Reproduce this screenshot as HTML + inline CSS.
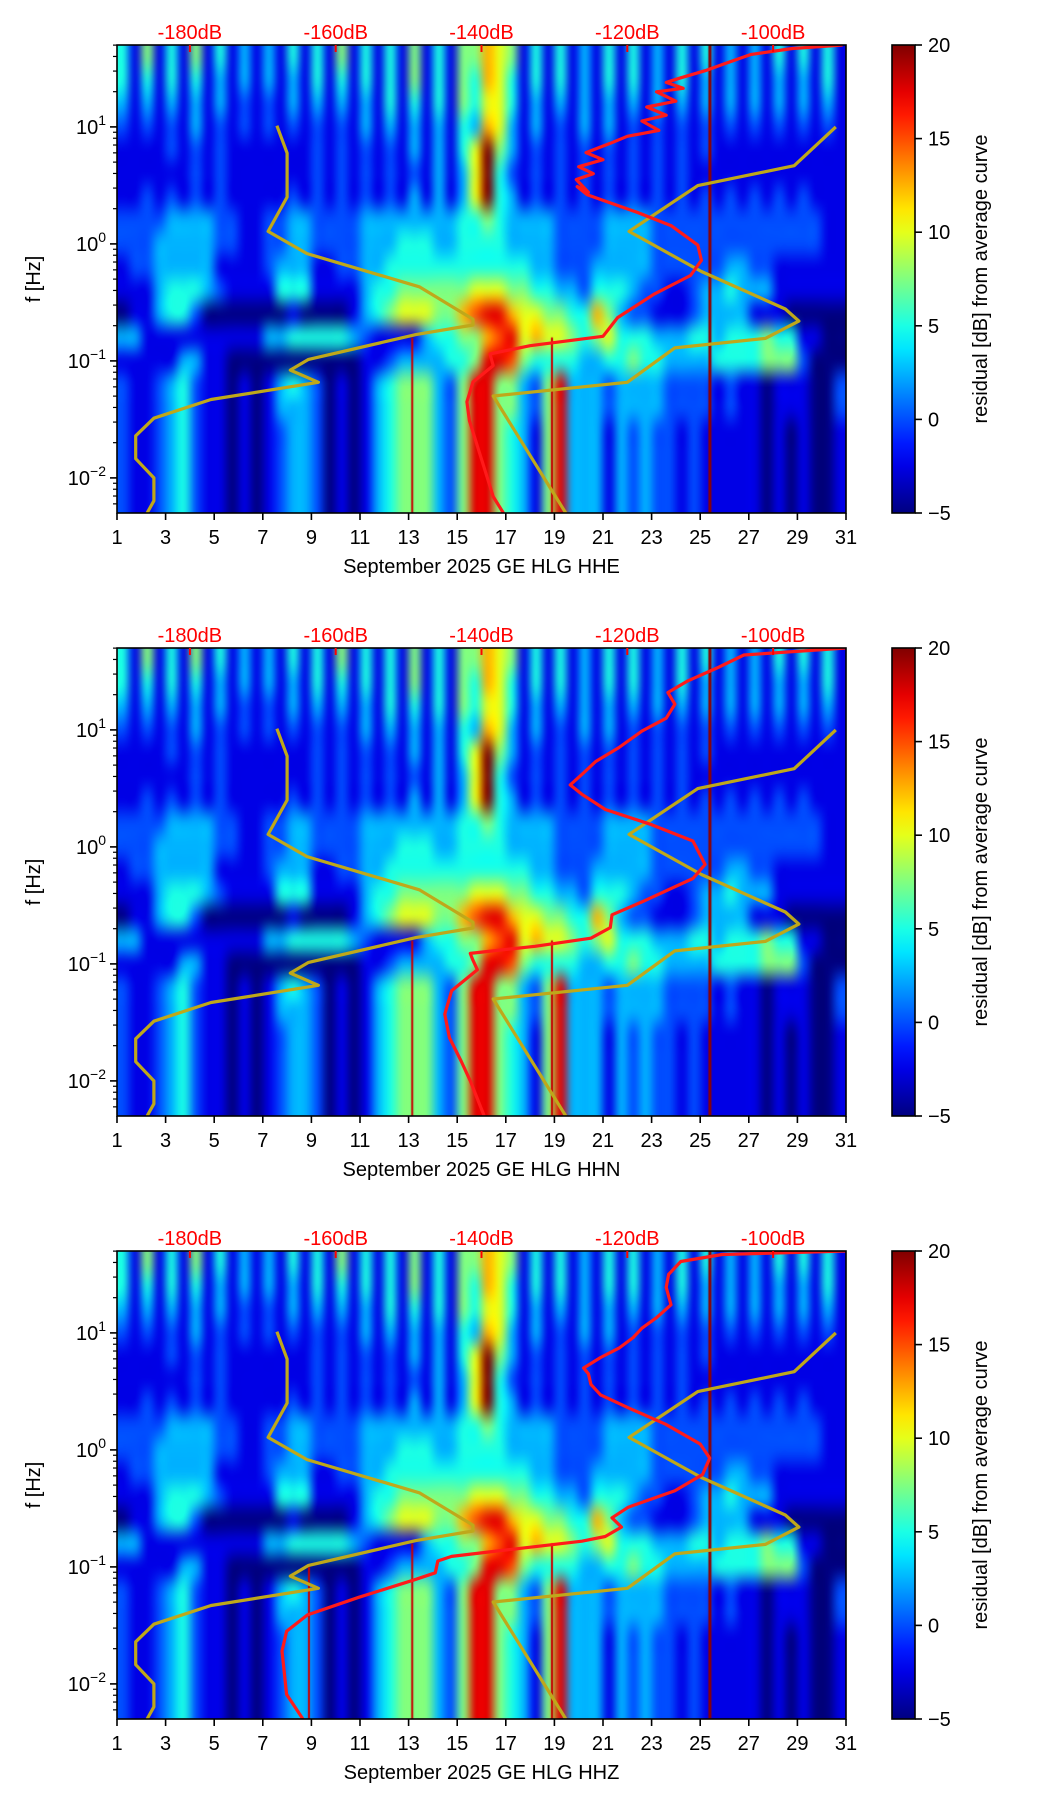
<!DOCTYPE html>
<html><head><meta charset="utf-8">
<style>
html,body{margin:0;padding:0;background:#fff;}
#wrap{position:relative;width:1052px;height:1806px;overflow:hidden;background:#fff;}
canvas{position:absolute;}
svg{position:absolute;left:0;top:0;}
text{font-family:"Liberation Sans","DejaVu Sans",sans-serif;}
</style></head>
<body>
<div id="wrap">
<canvas id="c0"></canvas>
<canvas id="c1"></canvas>
<canvas id="c2"></canvas>
<svg id="s" width="1052" height="1806"></svg>
</div>
<script>
// ---- data ----
const channels = ["HHE","HHN","HHZ"];
const dayTicks = [1,3,5,7,9,11,13,15,17,19,21,23,25,27,29,31];
const dbTickDays = [4,10,16,22,28];
const dbTickLabels = ["-180dB","-160dB","-140dB","-120dB","-100dB"];
const yTickExp = [1,0,-1,-2];
const cbTicks = [20,15,10,5,0,-5];
// residual grid: rows top (50 Hz) to bottom (0.005 Hz), 0.2 decade each; columns half-days
const gridRows = [
"41 51 41 51 41 31 31 41 41 51 41 41 51 41 55 76 51 41 41 31 41 41 31 41 41 31 31 41 41 41",
"41 41 41 41 31 31 31 31 41 41 41 41 51 41 54 76 41 41 41 31 41 41 31 41 31 31 31 31 31 41",
"31 31 31 31 31 21 21 31 31 31 31 41 41 41 54 66 41 31 31 31 31 31 31 31 31 31 31 31 31 31",
"21 21 21 31 21 21 21 21 21 21 31 31 31 31 43 76 31 31 21 31 31 21 21 21 21 21 21 21 21 21",
"11 11 21 21 21 11 11 11 21 21 21 21 31 31 46 a5 31 21 21 21 21 21 21 21 21 11 11 11 11 11",
"11 11 11 21 21 11 11 11 21 21 21 21 21 31 36 a4 21 21 21 21 21 21 21 21 11 11 11 11 11 11",
"11 21 21 21 21 11 11 21 21 21 21 21 31 31 36 a4 31 21 21 21 21 21 21 21 21 21 21 21 21 11",
"22 22 33 33 22 11 22 33 22 22 33 33 33 33 44 54 33 33 22 22 33 33 22 22 22 22 22 22 22 11",
"22 23 33 33 22 11 22 33 22 22 33 34 44 33 44 44 33 33 22 22 33 33 22 22 22 22 22 22 22 11",
"12 23 33 33 11 11 23 33 11 22 33 44 44 44 44 44 44 33 22 23 33 33 22 22 22 33 22 11 11 11",
"11 13 44 43 21 11 14 44 11 11 34 45 55 55 56 66 55 44 33 24 44 32 21 12 33 43 33 11 11 11",
"01 13 44 20 00 00 00 10 00 01 34 56 66 55 78 99 76 65 54 47 53 22 11 12 33 33 11 10 00 00",
"33 11 11 11 11 11 33 44 44 43 21 11 13 44 55 78 96 76 65 45 64 44 33 34 43 44 45 44 11 00",
"11 11 13 31 10 00 00 00 00 00 11 23 33 34 45 99 85 44 44 33 44 54 43 33 34 44 45 55 20 00",
"21 12 34 21 10 10 13 43 20 10 13 45 55 32 59 95 53 25 93 33 23 33 32 22 21 21 10 11 10 02",
"21 12 34 21 10 10 13 33 20 10 13 45 55 32 59 95 53 25 93 33 23 33 32 22 21 21 10 11 10 02",
"21 12 34 21 10 10 12 33 20 10 13 45 55 32 59 95 43 15 93 33 13 23 22 12 11 11 10 10 10 01",
"21 12 34 21 10 10 12 33 20 10 13 45 55 32 59 95 43 15 93 33 13 23 22 12 11 11 10 10 10 01",
"21 12 34 21 10 10 12 33 20 10 13 45 55 32 59 95 43 15 93 33 13 23 22 12 11 11 10 10 10 01",
"21 12 34 21 10 10 12 33 20 10 13 45 55 32 59 95 43 15 93 33 13 23 22 12 11 11 10 10 10 01"
];
// narrow event streaks: day, top log10(f)
const spikeDays = [[25.4,18.9,13.15],[25.4,18.9,13.15],[25.4,18.9,13.15,8.9]];
const spikeTops = [[1.7,-0.8,-0.8],[1.7,-0.8,-0.8],[1.7,-0.8,-0.8,-1.0]];
// yellow reference curves
const yelA_day = [7.58,8.0,8.0,7.22,8.82,13.44,15.65,15.65,13.3,8.88,8.13,9.29,4.87,2.52,1.77,1.77,2.52,2.52,2.24];
const yelA_logf = [1.01,0.776,0.40,0.107,-0.083,-0.367,-0.644,-0.693,-0.775,-0.987,-1.079,-1.183,-1.33,-1.49,-1.64,-1.836,-2.0,-2.196,-2.3];
const yelB_day = [30.58,28.87,24.9,22.07,25.05,28.5,29.06,27.68,23.95,22.0,16.48,19.47];
const yelB_logf = [1.0,0.668,0.498,0.107,-0.236,-0.556,-0.66,-0.808,-0.889,-1.183,-1.30,-2.3];
// red average curves per channel
const red_day = [
[16.9,16.48,16.0,15.5,15.4,15.65,16.48,16.35,18.0,21.0,21.6,23.1,24.6,25.05,24.9,23.8,22.4,20.35,19.94,20.4,19.9,20.6,20.0,21.0,20.3,21.3,22.0,23.3,22.6,23.6,22.8,24.0,23.2,24.3,23.6,24.2,25.2,26.0,27.1,28.8,30.86],
[16.11,15.54,15.16,14.68,14.49,14.77,15.83,15.63,15.54,18.2,20.5,21.3,21.37,22.6,24.7,25.2,24.7,23.0,21.1,20.13,19.65,20.13,20.7,21.66,22.6,23.6,23.96,23.67,24.5,25.7,26.8,31.0],
[8.65,7.98,7.79,7.98,8.84,10.95,13.24,14.1,14.2,14.77,17.26,20.13,21.09,21.76,21.37,22.04,23.96,25.1,25.39,25.0,23.57,22.04,20.9,20.5,20.4,20.2,20.9,21.66,22.24,22.6,23.2,23.8,23.6,23.7,24.2,25.9,31.0]
];
const red_logf = [
[-2.3,-2.16,-1.84,-1.51,-1.35,-1.18,-1.04,-0.94,-0.87,-0.79,-0.63,-0.43,-0.27,-0.14,-0.01,0.156,0.27,0.42,0.49,0.44,0.55,0.60,0.66,0.72,0.78,0.86,0.92,0.97,1.05,1.10,1.17,1.22,1.30,1.33,1.38,1.42,1.48,1.54,1.62,1.67,1.7],
[-2.3,-2.0,-1.83,-1.63,-1.43,-1.23,-1.05,-0.96,-0.91,-0.85,-0.78,-0.69,-0.58,-0.47,-0.27,-0.15,0.05,0.19,0.32,0.45,0.53,0.62,0.73,0.85,0.99,1.10,1.22,1.32,1.42,1.53,1.64,1.7],
[-2.3,-2.09,-1.72,-1.55,-1.41,-1.26,-1.11,-1.05,-0.95,-0.91,-0.85,-0.78,-0.74,-0.66,-0.58,-0.49,-0.35,-0.21,-0.07,0.05,0.22,0.36,0.47,0.56,0.65,0.70,0.79,0.87,0.96,1.04,1.13,1.24,1.39,1.5,1.61,1.67,1.7]
];

// ---- layout ----
const L=117, R=846, W=R-L, H=468;
const tops=[45,648,1251];
const CBX=892, CBW=23;
const LOGMAX=1.7, LOGMIN=-2.3;
const NS="http://www.w3.org/2000/svg";
const svg=document.getElementById('s');
function xOf(d){return L+(d-1)/30*W;}
function yOf(top,lf){return top+(LOGMAX-lf)/(LOGMAX-LOGMIN)*H;}
function jet(t){t=Math.max(0,Math.min(1,t));
 const c=v=>Math.round(255*Math.max(0,Math.min(1,v)));
 return [c(1.5-Math.abs(4*t-3)),c(1.5-Math.abs(4*t-2)),c(1.5-Math.abs(4*t-1))];}
function lvl(ch){return ch==='a'?20:-5+2.5*parseInt(ch,10);}
function mk(tag,attrs,parent){const e=document.createElementNS(NS,tag);for(const k in attrs)e.setAttribute(k,attrs[k]);(parent||svg).appendChild(e);return e;}

const defs=mk('defs',{});
const grad=mk('linearGradient',{id:'jetg',x1:0,y1:1,x2:0,y2:0},defs);
for(let i=0;i<=20;i++){const c=jet(i/20);mk('stop',{offset:(i/20),'stop-color':`rgb(${c})`},grad);}

const grid=gridRows.map(r=>r.replace(/ /g,'').split('').map(lvl));

channels.forEach((ch,p)=>{
 const top=tops[p];
 // heatmap
 const cv=document.getElementById('c'+p);
 cv.width=W;cv.height=H;cv.style.left=L+'px';cv.style.top=top+'px';
 const ctx=cv.getContext('2d');
 const nr=grid.length,nc=grid[0].length;
 const off=document.createElement('canvas');off.width=nc;off.height=nr;
 const octx=off.getContext('2d');const img=octx.createImageData(nc,nr);
 for(let i=0;i<nr;i++)for(let j=0;j<nc;j++){const c=jet((grid[i][j]+5)/25);const k=(i*nc+j)*4;img.data[k]=c[0];img.data[k+1]=c[1];img.data[k+2]=c[2];img.data[k+3]=255;}
 octx.putImageData(img,0,0);
 ctx.imageSmoothingEnabled=true;ctx.imageSmoothingQuality='high';
 ctx.drawImage(off,0,0,W,H);
 spikeDays[p].forEach((d,k)=>{
  const x=xOf(d)-L, y0=yOf(0,spikeTops[p][k]);
  ctx.fillStyle=k===0?'#8b0000':'#c80000';
  ctx.fillRect(x-(k===0?1.5:1),y0,k===0?3:2,H-y0);
 });
 const g=mk('g',{});
 
 
 const cp=mk('clipPath',{id:'clip'+p},defs);mk('rect',{x:L,y:top,width:W,height:H},cp);
 function poly(ds,ls,color,w,name){
  const pts=ds.map((d,i)=>xOf(d).toFixed(1)+','+yOf(top,ls[i]).toFixed(1)).join(' ');
  const e=mk('polyline',{points:pts,fill:'none',stroke:color,'stroke-width':w,'stroke-linejoin':'round','clip-path':'url(#clip'+p+')'},g);
  
  
 }
 poly(yelA_day,yelA_logf,'#bfa81a',3.2,'reference-curve-low');
 poly(yelB_day,yelB_logf,'#bfa81a',3.2,'reference-curve-high');
 poly(red_day[p],red_logf[p],'#ff1a1a',3.2,'average-curve');
 const fr=mk('rect',{x:L,y:top,width:W,height:H,fill:'none',stroke:'#000','stroke-width':1.6},g);
 
 
 dayTicks.forEach(d=>{const x=xOf(d);
  mk('line',{x1:x,y1:top+H,x2:x,y2:top+H+7,stroke:'#000','stroke-width':1.6},g);
  const t=mk('text',{x:x,y:top+H+31,'text-anchor':'middle','font-size':20},g);t.textContent=d;
  
  
 });
 const xl=mk('text',{x:(L+R)/2,y:top+H+60,'text-anchor':'middle','font-size':20},g);
 xl.textContent='September 2025 GE HLG  '+ch;
 
 
 dbTickDays.forEach((d,k)=>{const x=xOf(d);
  mk('line',{x1:x,y1:top,x2:x,y2:top+7,stroke:'#ff0000','stroke-width':2},g);
  const t=mk('text',{x:x,y:top-6,'text-anchor':'middle','font-size':20,fill:'#ff0000'},g);t.textContent=dbTickLabels[k];
  
  
 });
 for(let n=-3;n<=1;n++)for(let m=2;m<=9;m++){const lf=n+Math.log10(m);if(lf<LOGMIN||lf>LOGMAX)continue;const y=yOf(top,lf);
  mk('line',{x1:L-4,y1:y,x2:L,y2:y,stroke:'#000','stroke-width':1.2},g);}
 yTickExp.forEach(e=>{const y=yOf(top,e);
  mk('line',{x1:L-7,y1:y,x2:L,y2:y,stroke:'#000','stroke-width':1.6},g);
  const t=mk('text',{x:L-11,y:y+7,'text-anchor':'end','font-size':20},g);
  
  
  t.appendChild(document.createTextNode('10'));
  const ts=mk('tspan',{dy:-9,'font-size':14},t);ts.textContent=(e<0?'\u2212':'')+Math.abs(e);
 });
 const yl=mk('text',{x:0,y:0,'text-anchor':'middle','font-size':20,transform:`translate(40,${top+H/2}) rotate(-90)`},g);
 yl.textContent='f [Hz]';
 
 
 const cb=mk('rect',{x:CBX,y:top,width:CBW,height:H,fill:'url(#jetg)',stroke:'#000','stroke-width':1.6},g);
 
 
 cbTicks.forEach(v=>{const y=top+(20-v)/25*H;
  mk('line',{x1:CBX+CBW,y1:y,x2:CBX+CBW+7,y2:y,stroke:'#000','stroke-width':1.6},g);
  const t=mk('text',{x:CBX+CBW+13,y:y+7,'font-size':20},g);t.textContent=(v<0?'\u2212':'')+Math.abs(v);
  
  
 });
 const cl=mk('text',{x:0,y:0,'text-anchor':'middle','font-size':20,transform:`translate(987,${top+H/2}) rotate(-90)`},g);
 cl.textContent='residual [dB] from average curve';
 
 
});
</script>
</body></html>
